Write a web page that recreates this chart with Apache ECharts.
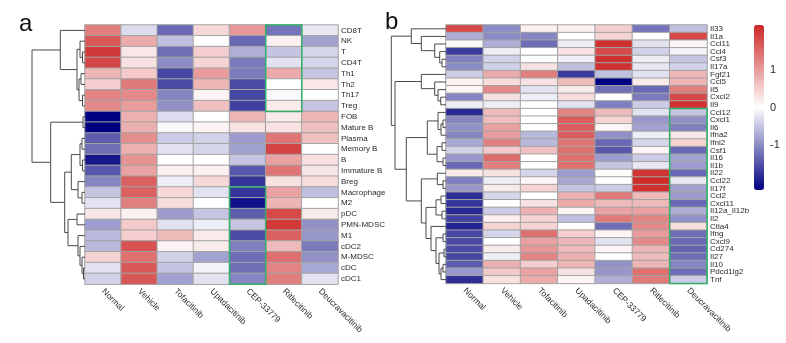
<!DOCTYPE html>
<html>
<head>
<meta charset="utf-8">
<script src="https://cdn.jsdelivr.net/npm/echarts@6/dist/echarts.min.js"></script>
<style>
  html, body { margin: 0; padding: 0; background: #fff; }
  #chart { width: 786px; height: 343px; }
</style>
</head>
<body>
<div id="chart"></div>
<script>
// Treatment groups (columns of both heatmaps)
const groups = ['Normal', 'Vehicle', 'Tofacitinib', 'Upadacitinib', 'CEP-33779', 'Ritlecitinib', 'Deucravacitinib'];

// Panel a: immune cell populations (row order follows the clustering)
const cellTypes = ['CD8T', 'NK', 'T', 'CD4T', 'Th1', 'Th2', 'Th17', 'Treg', 'FOB', 'Mature B', 'Plasma',
  'Memory B', 'B', 'Immature B', 'Breg', 'Macrophage', 'M2', 'pDC', 'PMN-MDSC', 'M1', 'cDC2', 'M-MDSC', 'cDC', 'cDC1'];

// Row-scaled scores per group, panel a
const aNormal = [1.3, 1.7, 2.0, 1.9, 0.75, 0.5, 1.25, 1.2, -2.2, -2.2, -1.4, -1.25, -2.0, -1.45, -1.05, -0.5, -0.25, 0.25, -0.85, -0.6, -0.6, 0.45, -0.25, -0.4];
const aVehicle = [-0.3, 0.85, 0.25, 0.3, 0.55, 1.35, 1.2, 1.0, 0.8, 0.8, 1.15, 0.8, 1.1, 0.95, 1.6, 1.6, 1.3, 0.15, 0.55, 0.5, 1.75, 1.45, 1.7, 1.7];
const aTofacitinib = [-1.3, -0.55, -1.25, -1.0, -1.6, -1.55, -1.05, -0.95, -0.3, -0.05, -0.45, -0.25, 0.0, 0.15, -0.15, 0.4, 0.35, -0.85, -0.25, 0.7, 0.1, -0.4, -0.5, -0.8];
const aUpadacitinib = [0.4, 0.0, 0.5, 0.45, 1.0, 0.75, 0.1, 0.65, 0.0, 0.1, -0.4, -0.35, 0.0, 0.15, 0.4, -0.25, 0.0, -0.5, -0.15, 0.2, 0.2, -0.8, -0.1, -0.25];
const aCep33779 = [1.05, -1.3, -0.7, -1.15, -1.15, -1.55, -1.6, -1.65, 0.75, 0.3, -0.85, -0.8, -0.5, -1.45, -1.75, -1.75, -2.05, -1.4, -0.5, -1.55, -1.1, -1.25, -1.25, -1.05];
const aRitlecitinib = [-1.2, 0.15, -0.5, -0.25, 0.85, 0.0, -0.05, 0.2, 0.2, 0.3, 1.4, 1.9, 0.95, 1.4, 0.3, 0.95, 0.75, 1.85, 2.0, 1.6, 0.7, 1.45, 1.25, 1.3];
const aDeucravacitinib = [-0.2, -0.8, -0.35, -0.35, -0.5, 0.25, 0.0, -0.5, 0.75, 0.65, 0.65, 0.0, 0.3, 0.25, 0.35, -0.55, 0.0, 0.2, -0.95, -0.9, -1.15, -0.95, -0.75, -0.25];

// Panel b: cytokines / chemokines
const cytokines = ['Il33', 'Il1a', 'Ccl11', 'Ccl4', 'Csf3', 'Il17a', 'Fgf21', 'Ccl5', 'Il5', 'Cxcl2', 'Il9',
  'Ccl12', 'Cxcl1', 'Il6', 'Ifna2', 'Ifnl2', 'Csf1', 'Il16', 'Il1b', 'Il22', 'Ccl22', 'Il17f', 'Ccl2', 'Cxcl11',
  'Il12a_Il12b', 'Il2', 'Ctla4', 'Ifng', 'Cxcl9', 'Cd274', 'Il27', 'Il10', 'Pdcd1lg2', 'Tnf'];

const bNormal = [1.85, -0.7, -0.05, -1.7, -1.1, -1.0, -0.45, 0.15, 0.1, -1.05, -0.15, -1.85, -1.05, -0.95, -1.05, -0.75, -0.4, -0.9, -1.3, 0.2, -1.1, -0.9, -1.8, -1.75, -1.85, -1.65, -1.9, -1.6, -1.55, -1.55, -1.6, -1.4, -0.9, -1.8];
const bVehicle = [-1.0, -1.0, -0.7, -0.15, -0.4, -0.4, 0.85, 0.35, 1.2, 0.3, -0.15, 0.7, 0.65, 0.95, 1.0, 1.3, 0.55, 1.5, 1.3, 0.3, -0.15, 0.2, -0.35, 0.0, -0.45, 0.15, 0.45, -0.35, 0.0, 0.2, -0.15, 0.8, 0.55, 0.3];
const bTofacitinib = [0.15, -1.05, -1.25, 0.0, 0.0, 0.3, 1.3, 0.3, -0.25, -0.15, 0.0, 0.0, 0.0, 0.0, -0.6, -0.6, 0.65, 0.0, 0.0, -0.35, 0.1, 0.45, 0.0, 0.3, 0.8, 0.45, 0.45, 1.45, 0.95, 1.05, 1.25, 0.5, 0.95, 0.85];
const bUpadacitinib = [0.15, 0.0, -0.15, 0.3, -0.15, -0.55, -1.7, 0.7, 0.2, 0.35, -0.25, 1.25, 1.65, 1.65, 1.65, 1.4, 1.45, 1.45, 1.45, -0.85, -0.75, -0.5, 0.8, 0.85, 0.1, -0.55, 0.0, 0.5, 0.75, 0.7, 0.8, 0.75, 0.3, 0.1];
const bCep33779 = [0.5, 0.45, 2.1, 1.85, 2.1, 2.1, -0.55, -2.2, -1.25, 0.0, -1.1, 0.7, 0.45, 0.1, -0.95, -1.3, -1.45, -0.85, -0.5, 0.0, 0.0, -0.45, 1.35, 0.7, 0.95, 1.35, -1.25, 0.1, -0.25, 0.1, 0.0, -0.95, -0.9, -0.7];
const bRitlecitinib = [-1.2, 0.0, -0.25, -0.4, -0.15, -0.2, -0.25, 0.2, -1.3, -1.15, -0.45, -0.25, -0.9, -0.8, -0.15, -0.35, 0.1, -0.45, -0.2, 2.05, 2.15, 2.1, 0.7, 0.7, 0.95, 1.25, 1.2, 1.0, 1.2, 0.75, 0.7, 0.75, 1.45, 1.35];
const bDeucravacitinib = [-0.55, 1.85, 0.1, -0.1, -0.5, -0.4, 0.75, 0.75, 1.3, 1.85, 2.1, -0.5, -0.95, -1.1, 0.25, 0.45, -1.3, -0.8, -0.85, -1.3, -0.2, -0.8, -0.85, -1.3, -0.7, -0.95, 0.35, -1.25, -1.3, -1.35, -1.25, -1.05, -1.25, -0.45];

// Row dendrograms: [height, left, right]; leaves are row names
const treeA = [53,
  [24.7, 'CD8T', [8, [5, 'NK', [2.5, 'T', 'CD4T']], [6, [4, 'Th1', 'Th2'], [2.5, 'Th17', 'Treg']]]],
  [34.3, [2, 'FOB', 'Mature B'],
    [20.3,
      [13.7, [5, [3, 'Plasma', 'Memory B'], [2.5, 'B', 'Immature B']], [7, 'Breg', [3, 'Macrophage', 'M2']]],
      [17, [8, 'pDC', 'PMN-MDSC'], [7, 'M1', [5, 'cDC2', [3, 'M-MDSC', [1.5, 'cDC', 'cDC1']]]]]]]];

const treeB = [54.7,
  [34.7, 'Il33', [24.7, 'Il1a', [11.3, 'Ccl11', [6.3, 'Ccl4', [4, 'Csf3', 'Il17a']]]]],
  [51,
    [24.7, 'Fgf21', [11.3, 'Ccl5', [8, 'Il5', [5.3, 'Cxcl2', 'Il9']]]],
    [39.7,
      [18.7, [8, 'Ccl12', [5, [3, 'Cxcl1', 'Il6'], 'Ifna2']], [9, [4, 'Ifnl2', 'Csf1'], [3, 'Il16', 'Il1b']]],
      [24.7, [8.7, 'Il22', [3, 'Ccl22', 'Il17f']],
        [20, [10, [5, 'Ccl2', 'Cxcl11'], [4, 'Il12a_Il12b', 'Il2']],
          [15, 'Ctla4', [10, [3, 'Ifng', 'Cxcl9'], [7, [2, 'Cd274', 'Il27'], [5, [3, 'Il10', 'Pdcd1lg2'], 'Tnf']]]]]]]]];

// Highlighted blocks: [group, first row, last row]
const boxesA = [['Ritlecitinib', 'CD8T', 'Treg'], ['CEP-33779', 'Macrophage', 'cDC1']];
const boxesB = [['Deucravacitinib', 'Ccl12', 'Tnf']];

// Colour key
const scaleMin = -2.2, scaleMax = 2.2;
const legendTicks = [-1, 0, 1];

const colsA = [aNormal, aVehicle, aTofacitinib, aUpadacitinib, aCep33779, aRitlecitinib, aDeucravacitinib];
const colsB = [bNormal, bVehicle, bTofacitinib, bUpadacitinib, bCep33779, bRitlecitinib, bDeucravacitinib];

function cells(cols) {
  const out = [];
  cols.forEach((col, ci) => col.forEach((v, ri) => out.push([ci, ri, v])));
  return out;
}

function brackets(tree, rows) {
  const segs = [];
  (function walk(node) {
    if (typeof node === 'string') return { y: rows.indexOf(node) + 0.5, h: 0 };
    const L = walk(node[1]), R = walk(node[2]);
    segs.push({ coords: [[L.h, L.y], [node[0], L.y], [node[0], R.y], [R.h, R.y]] });
    return { y: (L.y + R.y) / 2, h: node[0] };
  })(tree);
  return segs;
}

function boxData(boxes, rows) {
  return boxes.map(b => [groups.indexOf(b[0]), rows.indexOf(b[1]), rows.indexOf(b[2])]);
}

function renderBox(params, api) {
  const p0 = api.coord([api.value(0), api.value(1)]);
  const p1 = api.coord([api.value(0), api.value(2)]);
  const s = api.size([1, 1]);
  return {
    type: 'rect',
    shape: { x: p0[0] - s[0] / 2, y: Math.min(p0[1], p1[1]) - s[1] / 2, width: s[0], height: Math.abs(p1[1] - p0[1]) + s[1] },
    style: { fill: 'none', stroke: '#33b06a', lineWidth: 1.5 }
  };
}

const FONT = 'Liberation Sans, Arial, sans-serif';
const textColor = '#2a2a2a';

const grids = [
  { left: 85, top: 25, width: 253, height: 259.2 },
  { left: 446, top: 25, width: 261, height: 258.4 },
  { left: 28, top: 25, width: 57, height: 259.2 },
  { left: 388, top: 25, width: 58, height: 258.4 },
  { left: 754, top: 25, width: 10, height: 165 }
].map(g => Object.assign({ containLabel: false, outerBoundsMode: 'none' }, g));

function heatX(gi) {
  return {
    gridIndex: gi, type: 'category', data: groups, position: 'bottom',
    axisLine: { show: false }, axisTick: { show: false }, splitLine: { show: false },
    axisLabel: { rotate: -45, fontSize: 8.5, fontFamily: FONT, color: textColor, margin: 6, interval: 0 }
  };
}
function heatY(gi, rows) {
  return {
    gridIndex: gi, type: 'category', data: rows, inverse: true, position: 'right',
    axisLine: { show: false }, axisTick: { show: false }, splitLine: { show: false },
    axisLabel: { fontSize: 8, fontFamily: FONT, color: textColor, margin: 3, interval: 0 }
  };
}
function hiddenValue(gi, max, inverse) {
  return { gridIndex: gi, type: 'value', min: 0, max: max, inverse: inverse, show: false };
}

const chart = echarts.init(document.getElementById('chart'), null, { renderer: 'canvas' });

chart.setOption({
  animation: false,
  backgroundColor: '#ffffff',
  textStyle: { fontFamily: FONT },
  grid: grids,
  xAxis: [
    heatX(0), heatX(1),
    hiddenValue(2, 57, true), hiddenValue(3, 58, true),
    { gridIndex: 4, type: 'value', show: false }
  ],
  yAxis: [
    heatY(0, cellTypes), heatY(1, cytokines),
    hiddenValue(2, cellTypes.length, true), hiddenValue(3, cytokines.length, true),
    {
      gridIndex: 4, type: 'value', min: scaleMin, max: scaleMax, position: 'right',
      axisLine: { show: false }, axisTick: { show: false }, splitLine: { show: false },
      axisLabel: { customValues: legendTicks, fontSize: 11, fontFamily: FONT, color: textColor, margin: 6 }
    }
  ],
  visualMap: {
    type: 'continuous', seriesIndex: [0, 1], min: scaleMin, max: scaleMax,
    calculable: false, orient: 'vertical', left: 754, top: 25, padding: 0,
    itemWidth: 10, itemHeight: 165,
    inRange: { color: ['#000080', '#ffffff', '#cd2626'] }
  },
  series: [
    {
      type: 'heatmap', xAxisIndex: 0, yAxisIndex: 0, data: cells(colsA),
      itemStyle: { borderColor: '#a3a3a3', borderWidth: 1 },
      emphasis: { disabled: true }
    },
    {
      type: 'heatmap', xAxisIndex: 1, yAxisIndex: 1, data: cells(colsB),
      itemStyle: { borderColor: '#a3a3a3', borderWidth: 1 },
      emphasis: { disabled: true }
    },
    {
      type: 'lines', coordinateSystem: 'cartesian2d', xAxisIndex: 2, yAxisIndex: 2, polyline: true,
      data: brackets(treeA, cellTypes), silent: true,
      lineStyle: { color: '#4a4a4a', width: 1, opacity: 1 }
    },
    {
      type: 'lines', coordinateSystem: 'cartesian2d', xAxisIndex: 3, yAxisIndex: 3, polyline: true,
      data: brackets(treeB, cytokines), silent: true,
      lineStyle: { color: '#4a4a4a', width: 1, opacity: 1 }
    },
    {
      type: 'custom', xAxisIndex: 0, yAxisIndex: 0, data: boxData(boxesA, cellTypes),
      encode: { x: 0, y: [1, 2] }, renderItem: renderBox, z: 5, silent: true
    },
    {
      type: 'custom', xAxisIndex: 1, yAxisIndex: 1, data: boxData(boxesB, cytokines),
      encode: { x: 0, y: [1, 2] }, renderItem: renderBox, z: 5, silent: true
    }
  ],
  graphic: [
    { type: 'text', left: 19, top: 12, style: { text: 'a', font: '24px ' + FONT, fill: '#111' } },
    { type: 'text', left: 385, top: 10, style: { text: 'b', font: '24px ' + FONT, fill: '#111' } }
  ]
});
</script>
</body>
</html>
